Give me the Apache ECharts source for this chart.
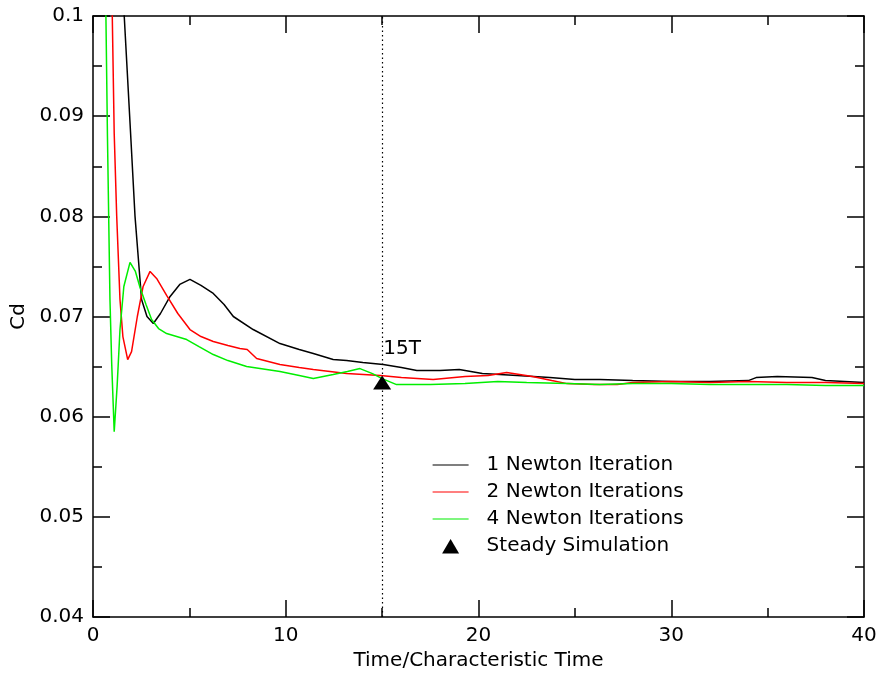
<!DOCTYPE html>
<html>
<head>
<meta charset="utf-8">
<script src="https://cdn.jsdelivr.net/npm/echarts@6/dist/echarts.min.js"></script>
<style>
html,body{margin:0;padding:0;background:#fff;}
#chart{width:882px;height:677px;}
</style>
</head>
<body>
<div id="chart"></div>
<script>
// ---- data ----
var seriesNames = ['1 Newton Iteration', '2 Newton Iterations', '4 Newton Iterations', 'Steady Simulation'];
var xTickLabels = ['0', '10', '20', '30', '40'];
var yTickLabels = ['0.04', '0.05', '0.06', '0.07', '0.08', '0.09', '0.1'];

var newton1 = [
  [1.34, 0.110], [1.62, 0.1000], [1.95, 0.0883], [2.18, 0.0800], [2.52, 0.0717], [2.80, 0.0700],
  [3.13, 0.0693], [3.50, 0.0703], [4.00, 0.0720], [4.50, 0.0732], [5.03, 0.0737], [5.60, 0.0731],
  [6.24, 0.0723], [6.80, 0.0712], [7.28, 0.0700], [8.31, 0.0687], [9.70, 0.0673], [10.70, 0.0667],
  [11.43, 0.0663], [12.46, 0.0657], [13.16, 0.0656], [14.00, 0.0654], [15.06, 0.0652], [16.00, 0.0649],
  [16.80, 0.0646], [18.00, 0.0646], [19.00, 0.0647], [19.60, 0.0645], [20.20, 0.0643], [22.00, 0.0641],
  [23.70, 0.0639], [25.00, 0.0637], [26.30, 0.0637], [28.00, 0.0636], [30.00, 0.0635], [32.00, 0.0635],
  [34.00, 0.0636], [34.40, 0.0639], [35.50, 0.0640], [37.30, 0.0639], [38.00, 0.0636], [39.00, 0.0635],
  [40.00, 0.0634]
];
var newton2 = [
  [0.92, 0.110], [1.00, 0.1000], [1.10, 0.0883], [1.23, 0.0800], [1.40, 0.0717], [1.55, 0.0680],
  [1.80, 0.0657], [2.00, 0.0665], [2.30, 0.0700], [2.60, 0.0730], [2.96, 0.0745], [3.30, 0.0738],
  [3.82, 0.0721], [4.40, 0.0703], [5.03, 0.0687], [5.60, 0.0680], [6.24, 0.0675], [7.00, 0.0671],
  [7.62, 0.0668], [8.00, 0.0667], [8.49, 0.0658], [9.70, 0.0652], [10.70, 0.0649], [11.43, 0.0647],
  [13.16, 0.0643], [14.90, 0.0641], [16.00, 0.0639], [17.65, 0.0637], [19.30, 0.0640], [20.50, 0.0641],
  [21.46, 0.0644], [22.80, 0.0640], [23.80, 0.0636], [24.60, 0.0633], [26.00, 0.0632], [27.20, 0.0632],
  [28.00, 0.0634], [30.00, 0.0635], [32.00, 0.0634], [34.00, 0.0635], [36.00, 0.0634], [38.00, 0.0634],
  [40.00, 0.0633]
];
var newton4 = [
  [0.60, 0.112], [0.67, 0.1000], [0.75, 0.0880], [0.88, 0.0717], [0.97, 0.0653], [1.10, 0.0585],
  [1.25, 0.0630], [1.40, 0.0687], [1.60, 0.0730], [1.92, 0.0754], [2.20, 0.0745], [2.44, 0.0729],
  [2.75, 0.0712], [3.04, 0.0697], [3.40, 0.0688], [3.82, 0.0683], [4.86, 0.0677], [5.50, 0.0670],
  [6.24, 0.0662], [7.00, 0.0656], [7.97, 0.0650], [9.70, 0.0645], [10.70, 0.0641], [11.43, 0.0638],
  [12.46, 0.0642], [13.20, 0.0645], [13.85, 0.0648], [14.50, 0.0643], [15.00, 0.0638], [15.75, 0.0632],
  [17.50, 0.0632], [19.30, 0.0633], [21.00, 0.0635], [22.50, 0.0634], [24.60, 0.0633], [26.30, 0.0632],
  [28.00, 0.0633], [30.00, 0.0633], [32.00, 0.0632], [34.00, 0.0632], [36.00, 0.0632], [38.00, 0.0631],
  [40.00, 0.0631]
];
var steady = [[15, 0.0634]];
var steadyLabel = '15T';
var markX = 15;

// ---- chart ----
var FONT = 'DejaVu Sans';
var chart = echarts.init(document.getElementById('chart'), null, {renderer: 'canvas'});

function fmtY(v) {
  var idx = Math.round((v - 0.04) / 0.01);
  return yTickLabels[idx] !== undefined ? yTickLabels[idx] : '';
}
function fmtX(v) {
  var idx = Math.round(v / 10);
  return xTickLabels[idx] !== undefined ? xTickLabels[idx] : '';
}

var axisCommon = {
  axisLine: {show: true, onZero: false, lineStyle: {color: '#000', width: 1.5}},
  axisTick: {show: true, inside: true, length: 17, lineStyle: {color: '#000', width: 1.5}},
  minorTick: {show: true, splitNumber: 2, length: 9, lineStyle: {color: '#000', width: 1.5}},
  splitLine: {show: false},
  minorSplitLine: {show: false}
};

var lineColors = ['#000000', '#ff0000', '#00ee00'];

var option = {
  backgroundColor: '#fff',
  animation: false,
  grid: {left: 93, right: 18, top: 16, bottom: 60, containLabel: false, outerBoundsMode: 'none'},
  xAxis: [
    Object.assign({
      type: 'value', position: 'bottom', min: 0, max: 40, interval: 10,
      name: 'Time/Characteristic Time', nameLocation: 'middle', nameGap: 34,
      nameTextStyle: {fontFamily: FONT, fontSize: 20, color: '#000'},
      axisLabel: {show: true, margin: 9, fontFamily: FONT, fontSize: 20, color: '#000', formatter: fmtX}
    }, axisCommon),
    Object.assign({
      type: 'value', position: 'top', min: 0, max: 40, interval: 10,
      axisLabel: {show: false}
    }, axisCommon)
  ],
  yAxis: [
    Object.assign({
      type: 'value', position: 'left', min: 0.04, max: 0.1, interval: 0.01,
      name: 'Cd', nameLocation: 'middle', nameGap: 58, nameRotate: 90,
      nameTextStyle: {fontFamily: FONT, fontSize: 20, color: '#000'},
      axisLabel: {show: true, margin: 9, fontFamily: FONT, fontSize: 20, color: '#000', formatter: fmtY}
    }, axisCommon),
    Object.assign({
      type: 'value', position: 'right', min: 0.04, max: 0.1, interval: 0.01,
      axisLabel: {show: false}
    }, axisCommon)
  ],
  legend: {
    orient: 'vertical', left: 432, top: 455, padding: 0, itemWidth: 36, itemHeight: 15, itemGap: 7,
    textStyle: {fontFamily: FONT, fontSize: 20, color: '#000', padding: [0, 0, 0, 13]},
    data: [
      {name: seriesNames[0], itemStyle: {opacity: 0}, lineStyle: {color: lineColors[0], width: 1.2}},
      {name: seriesNames[1], itemStyle: {opacity: 0}, lineStyle: {color: lineColors[1], width: 1.2}},
      {name: seriesNames[2], itemStyle: {opacity: 0}, lineStyle: {color: lineColors[2], width: 1.2}},
      {name: seriesNames[3], icon: 'path://M0,0 M36,15 M9.5,15 L18,0.5 L26.5,15 Z',
       itemStyle: {color: '#000', opacity: 1, borderWidth: 0}}
    ]
  },
  series: [
    {
      name: seriesNames[0], type: 'line', data: newton1, symbol: 'none', xAxisIndex: 0, yAxisIndex: 0,
      lineStyle: {color: lineColors[0], width: 1.5}, itemStyle: {color: lineColors[0]}, clip: true, z: 3,
      markLine: {
        silent: true, symbol: 'none', label: {show: false},
        lineStyle: {color: '#000', type: [1.5, 3], width: 1.2},
        data: [{xAxis: markX}]
      }
    },
    {
      name: seriesNames[1], type: 'line', data: newton2, symbol: 'none', xAxisIndex: 0, yAxisIndex: 0,
      lineStyle: {color: lineColors[1], width: 1.5}, itemStyle: {color: lineColors[1]}, clip: true, z: 4
    },
    {
      name: seriesNames[2], type: 'line', data: newton4, symbol: 'none', xAxisIndex: 0, yAxisIndex: 0,
      lineStyle: {color: lineColors[2], width: 1.5}, itemStyle: {color: lineColors[2]}, clip: true, z: 5
    },
    {
      name: seriesNames[3], type: 'scatter', data: steady, symbol: 'triangle', symbolSize: [18, 14],
      xAxisIndex: 0, yAxisIndex: 0, itemStyle: {color: '#000', opacity: 1}, z: 6,
      label: {
        show: true, position: 'top', offset: [20, -12], formatter: steadyLabel,
        fontFamily: FONT, fontSize: 20, color: '#000'
      }
    }
  ]
};
chart.setOption(option);
</script>
</body>
</html>
